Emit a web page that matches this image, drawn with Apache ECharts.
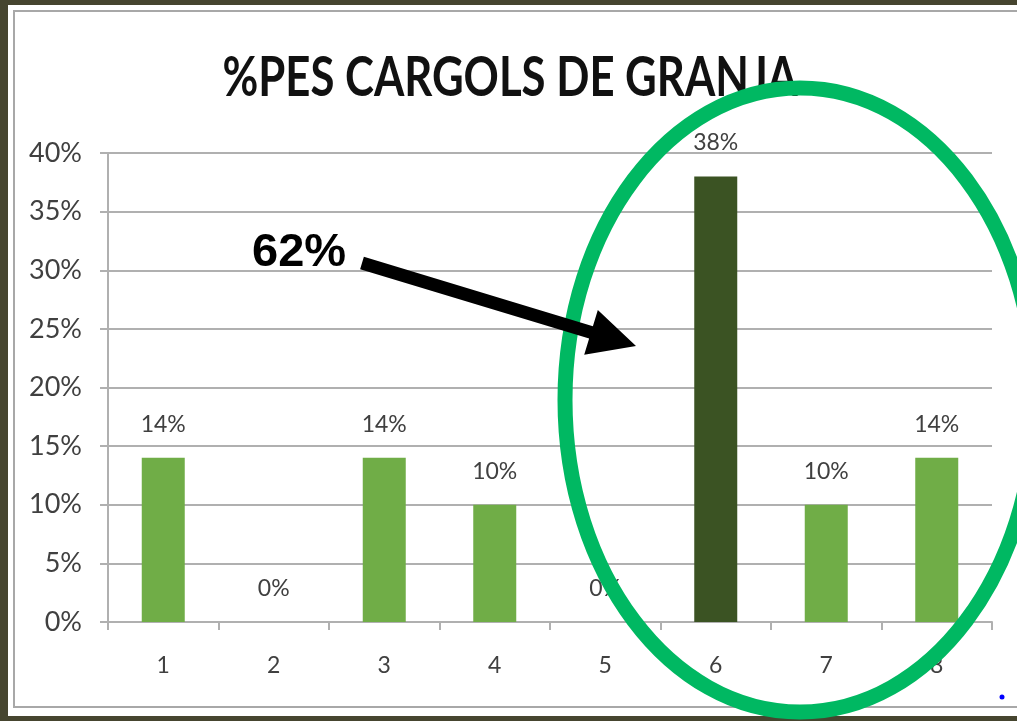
<!DOCTYPE html>
<html>
<head>
<meta charset="utf-8">
<script src="https://cdn.jsdelivr.net/npm/echarts@6/dist/echarts.min.js"></script>
<style>
  html, body { margin: 0; padding: 0; background: #46452f; }
  #chart { width: 1017px; height: 721px; }
</style>
</head>
<body>
<div id="chart"></div>
<script>
// dades del grafic
var chartTitle = '%PES CARGOLS DE GRANJA';
var categories = ['1', '2', '3', '4', '5', '6', '7', '8'];
var values = [14, 0, 14, 10, 0, 38, 10, 14];
var highlightIndex = 5;
var yMax = 40, yStep = 5;

var lightGreen = '#70ad47';
var darkGreen = '#3b5323';
var textGray = '#404040';
var gridGray = '#b0b0b0';

// fletxa: punts calculats a partir d'inici, punta i amplades
function arrowPoints(x0, y0, x1, y1, shaft, headLen, headW) {
  var dx = x1 - x0, dy = y1 - y0;
  var len = Math.sqrt(dx * dx + dy * dy);
  var ux = dx / len, uy = dy / len;
  var nx = -uy, ny = ux;
  var bx = x1 - ux * headLen, by = y1 - uy * headLen;
  return [
    [x0 + nx * shaft / 2, y0 + ny * shaft / 2],
    [bx + nx * shaft / 2, by + ny * shaft / 2],
    [bx + nx * headW / 2, by + ny * headW / 2],
    [x1, y1],
    [bx - nx * headW / 2, by - ny * headW / 2],
    [bx - nx * shaft / 2, by - ny * shaft / 2],
    [x0 - nx * shaft / 2, y0 - ny * shaft / 2]
  ];
}

var chart = echarts.init(document.getElementById('chart'));

var barData = values.map(function (v, i) {
  return {
    value: v,
    itemStyle: { color: i === highlightIndex ? darkGreen : lightGreen }
  };
});

chart.setOption({
  backgroundColor: '#46452f',
  animation: false,
  grid: { left: 108, right: 25, top: 153, bottom: 99 },
  xAxis: {
    type: 'category',
    data: categories,
    axisLine: { lineStyle: { color: gridGray, width: 2 } },
    axisTick: { show: true, length: 8, lineStyle: { color: gridGray, width: 2 } },
    axisLabel: { color: textGray, fontFamily: 'Lato', fontSize: 23, margin: 32 }
  },
  yAxis: {
    type: 'value',
    min: 0,
    max: yMax,
    interval: yStep,
    axisLine: { show: true, lineStyle: { color: gridGray, width: 2 } },
    axisTick: { show: true, length: 8, lineStyle: { color: gridGray, width: 2 } },
    axisLabel: { color: textGray, fontFamily: 'Lato', fontSize: 27, margin: 26, formatter: '{value}%' },
    splitLine: { lineStyle: { color: gridGray, width: 2 } }
  },
  series: [{
    type: 'bar',
    data: barData,
    barWidth: 43,
    label: {
      show: true,
      position: 'top',
      distance: 22,
      formatter: '{c}%',
      color: textGray,
      fontFamily: 'Lato',
      fontSize: 23
    }
  }],
  graphic: [
    { type: 'rect', z: -10, silent: true,
      shape: { x: 8, y: 5, width: 1009, height: 711 },
      style: { fill: '#ffffff' } },
    { type: 'rect', z: -9, silent: true,
      shape: { x: 14, y: 11, width: 1010, height: 696 },
      style: { fill: 'none', stroke: '#a8a8a8', lineWidth: 2 } },
    // titol (una mica estret, com a l'original)
    { type: 'text', z: 50, silent: true,
      x: 510, y: 78, scaleX: 0.78,
      style: {
        text: chartTitle,
        font: 'bold 56px Lato, sans-serif',
        fill: '#111111',
        textAlign: 'center',
        textVerticalAlign: 'middle'
      } },
    { type: 'ellipse', z: 100, silent: true,
      shape: { cx: 800, cy: 400, rx: 235, ry: 312 },
      style: { fill: 'none', stroke: '#00b862', lineWidth: 15 } },
    { type: 'polygon', z: 100, silent: true,
      shape: { points: arrowPoints(362, 263, 636, 346, 13, 47, 47) },
      style: { fill: '#000000' } },
    { type: 'text', z: 100, silent: true,
      x: 252, y: 230,
      style: {
        text: '62%',
        font: 'bold 47px "Liberation Sans", Arial, sans-serif',
        fill: '#000000',
        shadowColor: 'rgba(0,0,0,0.45)',
        shadowBlur: 4,
        shadowOffsetX: 2,
        shadowOffsetY: 2
      } },
    { type: 'circle', z: 100, silent: true,
      shape: { cx: 1002, cy: 697, r: 2.5 },
      style: { fill: '#0000ff' } }
  ]
});
</script>
</body>
</html>
